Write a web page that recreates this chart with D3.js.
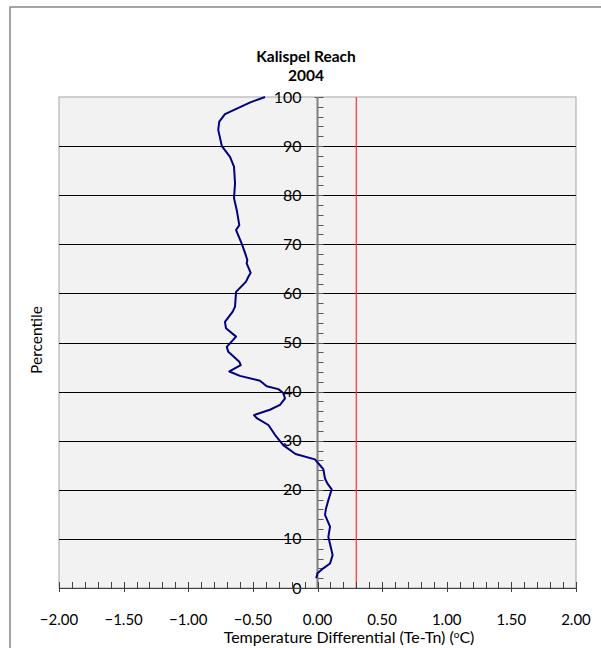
<!doctype html>
<html>
<head>
<meta charset="utf-8">
<title>Kalispel Reach 2004</title>
<script src="https://cdn.jsdelivr.net/npm/d3@7"></script>
<style>
  body { margin: 0; background: #fff; }
  text { font-family: Lato, "Open Sans", sans-serif; fill: #000; }
</style>
</head>
<body>
<script>
// percentile (y) and temperature differential Te-Tn in degC (x)
var percentile = [2, 3, 4, 5, 6.7, 8.4, 10.4, 12.5, 14.9, 16.2, 17.9, 20.1, 21.3, 22.3, 24.2, 25, 26.2,
  27.3, 29.1, 31.2, 33.2, 34.6, 35.2, 36.3, 37.3, 38.6, 39.7, 40.5, 41.1, 42.2, 43.2, 44.1, 45.4,
  46.1, 48.1, 49.1, 51.2, 52.9, 54.2, 56.3, 57.3, 60.3, 62.4, 63.4, 64.2, 66.1, 66.8, 68.2, 70.2,
  72.9, 73.9, 77, 79.4, 82.4, 85.8, 87.8, 90, 93.3, 95, 96.5, 98.9, 100];
var diff = [-0.01, 0.0, 0.045, 0.097, 0.117, 0.102, 0.084, 0.097, 0.058, 0.066, 0.084, 0.11, 0.076, 0.058, 0.045, 0.019, -0.02,
  -0.17, -0.265, -0.329, -0.38, -0.47, -0.491, -0.368, -0.29, -0.251, -0.265, -0.303, -0.393, -0.445, -0.6, -0.682, -0.594,
  -0.605, -0.69, -0.702, -0.63, -0.708, -0.716, -0.656, -0.638, -0.63, -0.553, -0.535, -0.517, -0.548, -0.543, -0.56, -0.587,
  -0.63, -0.605, -0.625, -0.646, -0.638, -0.646, -0.677, -0.74, -0.768, -0.76, -0.716, -0.52, -0.406];
var threshold = 0.3;
var xTicks = [-2, -1.5, -1, -0.5, 0, 0.5, 1, 1.5, 2];
var yTicks = [0, 10, 20, 30, 40, 50, 60, 70, 80, 90, 100];
var titleLines = ["Kalispel Reach", "2004"];

var width = 601, height = 648;
var plot = {left: 59, right: 576, top: 97, bottom: 588};

var svg = d3.select('body').append('svg')
  .attr('width', width).attr('height', height);

// chart border (runs off the right and bottom edges)
svg.append('rect').attr('x', 10).attr('y', 7).attr('width', 600).attr('height', 650)
  .attr('fill', '#fff').attr('stroke', '#868686').attr('stroke-width', 1.5);

var x = d3.scaleLinear().domain([-2, 2]).range([plot.left, plot.right]);
var y = d3.scaleLinear().domain([0, 100]).range([plot.bottom, plot.top]);

// plot area
svg.append('rect').attr('x', plot.left).attr('y', plot.top)
  .attr('width', plot.right - plot.left).attr('height', plot.bottom - plot.top)
  .attr('fill', '#f2f2f2').attr('stroke', '#a6a6a6').attr('stroke-width', 1);

// gridlines
svg.append('g').selectAll('line').data(yTicks.filter(function (d) { return d > 0 && d < 100; }))
  .enter().append('line')
  .attr('x1', plot.left).attr('x2', plot.right)
  .attr('y1', function (d) { return Math.round(y(d)) + 0.5; })
  .attr('y2', function (d) { return Math.round(y(d)) + 0.5; })
  .attr('stroke', '#000').attr('stroke-width', 1);

// threshold line
svg.append('line')
  .attr('x1', x(threshold)).attr('x2', x(threshold))
  .attr('y1', plot.top).attr('y2', plot.bottom)
  .attr('stroke', '#ff3333').attr('stroke-width', 1.2);

// y axis at x = 0
var x0 = x(0);
var yMinor = d3.range(0, 101, 2);
svg.append('g').selectAll('line').data(yMinor).enter().append('line')
  .attr('x1', function (d) { return d % 10 === 0 ? x0 - 3 : x0; })
  .attr('x2', x0 + 6)
  .attr('y1', function (d) { return Math.round(y(d)) + 0.5; })
  .attr('y2', function (d) { return Math.round(y(d)) + 0.5; })
  .attr('stroke', '#595959').attr('stroke-width', 1);
svg.append('line').attr('x1', x0).attr('x2', x0).attr('y1', plot.top).attr('y2', plot.bottom)
  .attr('stroke', '#7f7f7f').attr('stroke-width', 2);
svg.append('g').selectAll('text').data(yTicks).enter().append('text')
  .attr('x', x0 - 16).attr('y', function (d) { return y(d) + 5.5; })
  .attr('text-anchor', 'end').attr('font-size', 16)
  .text(function (d) { return d; });

// x axis at bottom
var xMinor = d3.range(-20, 21).map(function (d) { return d / 10; });
svg.append('g').selectAll('line').data(xMinor).enter().append('line')
  .attr('x1', function (d) { return Math.round(x(d)) + 0.5; })
  .attr('x2', function (d) { return Math.round(x(d)) + 0.5; })
  .attr('y1', plot.bottom - 6)
  .attr('y2', function (d) { return Math.abs(d * 2 - Math.round(d * 2)) < 1e-6 ? plot.bottom + 4 : plot.bottom; })
  .attr('stroke', '#404040').attr('stroke-width', 1);
svg.append('line').attr('x1', plot.left).attr('x2', plot.right)
  .attr('y1', plot.bottom + 0.5).attr('y2', plot.bottom + 0.5)
  .attr('stroke', '#404040').attr('stroke-width', 1);
svg.append('g').selectAll('text').data(xTicks).enter().append('text')
  .attr('x', function (d) { return x(d); }).attr('y', 625)
  .attr('text-anchor', 'middle').attr('font-size', 15)
  .text(function (d) { return d3.format('.2f')(d); });

// curve
var line = d3.line()
  .x(function (d) { return x(d[0]); })
  .y(function (d) { return y(d[1]); })
  .curve(d3.curveLinear);
svg.append('path').datum(d3.zip(diff, percentile))
  .attr('d', line).attr('fill', 'none')
  .attr('stroke', '#000080').attr('stroke-width', 2).attr('stroke-linejoin', 'round');

// titles
svg.append('g').selectAll('text').data(titleLines).enter().append('text')
  .attr('x', 306).attr('y', function (d, i) { return 62 + i * 19; })
  .attr('text-anchor', 'middle').attr('font-size', 15.5).attr('font-weight', 'bold')
  .text(function (d) { return d; });

var xt = svg.append('text').attr('x', 349).attr('y', 643)
  .attr('text-anchor', 'middle').attr('font-size', 16);
xt.append('tspan').text('Temperature Differential (Te-Tn) (');
xt.append('tspan').attr('font-size', 10).attr('dy', -5).text('o');
xt.append('tspan').attr('dy', 5).text('C)');

svg.append('text').attr('transform', 'translate(42,340) rotate(-90)')
  .attr('text-anchor', 'middle').attr('font-size', 15.5)
  .text('Percentile');
</script>
</body>
</html>
